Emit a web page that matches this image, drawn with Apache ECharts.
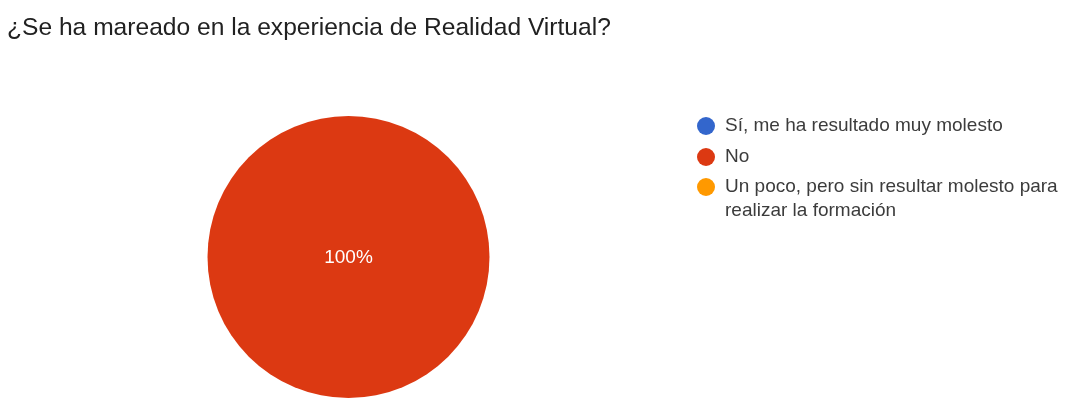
<!DOCTYPE html>
<html>
<head>
<meta charset="utf-8">
<script src="https://cdn.jsdelivr.net/npm/echarts@6/dist/echarts.min.js"></script>
<style>
  html, body { margin: 0; padding: 0; background: #fff; }
  #mareo { width: 1076px; height: 411px; }
</style>
</head>
<body>
<div id="mareo"></div>
<script>
// respuestas de la encuesta (porcentaje)
const categorias = ['Sí, me ha resultado muy molesto', 'No', 'Un poco, pero sin resultar molesto para realizar la formación']
const valores = [0, 100, 0]
const colores = ['#3366cc', '#dc3912', '#ff9900']

const fuente = 'Liberation Sans, Arial, sans-serif'

let chart = echarts.init(document.getElementById('mareo'))
let options = {
    title: {
        text: '¿Se ha mareado en la experiencia de Realidad Virtual?',
        left: 7,
        top: 16,
        padding: 0,
        textStyle: { fontFamily: fuente, fontSize: 24.6, fontWeight: 'normal', color: '#212121' }
    },
    color: colores,
    legend: [
        {
            orient: 'vertical',
            left: 697,
            top: 114.5,
            padding: 0,
            icon: 'circle',
            itemWidth: 18,
            itemHeight: 18,
            itemGap: 8,
            data: categorias.slice(0, 2),
            textStyle: { fontFamily: fuente, fontSize: 19, lineHeight: 23, color: '#3c3c3c', padding: [0, 0, 0, 5] }
        },
        {
            // línea vacía delante para que el punto quede a la altura de la primera línea
            orient: 'vertical',
            left: 697,
            top: 151,
            padding: 0,
            icon: 'circle',
            itemWidth: 18,
            itemHeight: 18,
            data: categorias.slice(2),
            formatter: name => '\n' + name,
            textStyle: { fontFamily: fuente, fontSize: 19, lineHeight: 24, color: '#3c3c3c',
                padding: [0, 0, 0, 5], width: 345, overflow: 'break' }
        }
    ],
    series: [
        {
            type: 'pie',
            center: [348.5, 257],
            radius: 141,
            startAngle: 90,
            animation: false,
            label: {
                position: 'center',
                color: '#fff',
                fontFamily: fuente,
                fontSize: 19,
                offset: [0, 1],
                formatter: p => p.value > 0 ? Math.round(p.percent) + '%' : ''
            },
            labelLine: { show: false },
            emphasis: { scale: false },
            data: categorias.map((c, i) => ({ name: c, value: valores[i] }))
        }
    ]
}
chart.setOption(options)
</script>
</body>
</html>
